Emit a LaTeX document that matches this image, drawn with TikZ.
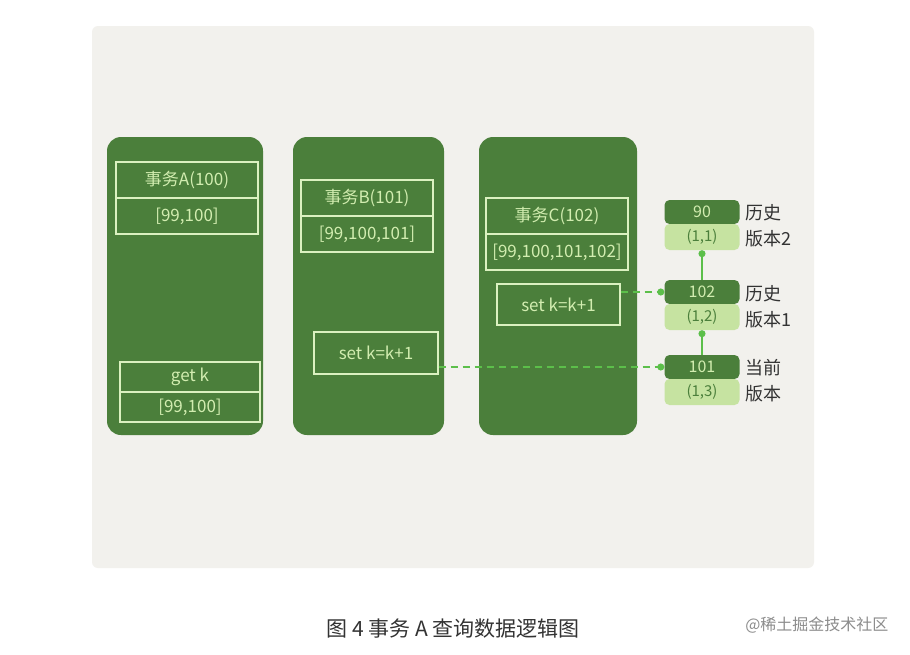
\documentclass[tikz,border=0pt]{standalone}
\usepackage{fontspec}
\setmainfont{Noto Sans CJK SC}
\usetikzlibrary{arrows.meta}
\definecolor{dg}{HTML}{4B7F3B}
\definecolor{lg}{HTML}{C6E3A1}
\definecolor{tx}{HTML}{D2EDB0}
\definecolor{bg}{HTML}{F2F1ED}
\definecolor{ar}{HTML}{5CBF4A}
\tikzset{
 col/.style={fill=dg,rounded corners=14pt},
 ib/.style={draw=tx!80!white,line width=1.2pt,text=tx,font=\fontsize{17}{20}\selectfont,inner sep=0pt},
 vd/.style={fill=dg,rounded corners=5pt,text=tx,font=\fontsize{16}{18}\selectfont},
 vl/.style={fill=lg,rounded corners=5pt,text=dg,font=\fontsize{15}{18}\selectfont},
 lab/.style={font=\fontsize{18}{26}\selectfont,text=black!80,align=left,anchor=west},
 dsh/.style={draw=ar,dash pattern=on 7pt off 5pt,line width=1.3pt,-{Circle[length=7pt]}},
 sol/.style={draw=ar,line width=1.3pt,-{Circle[length=7pt]}}
}
\begin{document}
\begin{tikzpicture}[x=1pt,y=-1pt]
\useasboundingbox (0,0) rectangle (910,654);
\fill[white] (0,0) rectangle (910,654);
\fill[bg,rounded corners=6pt] (92,26) rectangle (814,568);
% columns
\fill[col] (107,137) rectangle (263,435);
\fill[col] (293,137) rectangle (444,435);
\fill[col] (479,137) rectangle (637,435);
% A
\node[ib,minimum width=142pt,minimum height=36pt] (ah) at (187,180) {事务A(100)};
\node[ib,minimum width=142pt,minimum height=36pt] (ar) at (187,216) {[99,100]};
\node[ib,minimum width=140pt,minimum height=30pt] (ag) at (190,377) {get k};
\node[ib,minimum width=140pt,minimum height=30pt] (av) at (190,407) {[99,100]};
% B
\node[ib,minimum width=132pt,minimum height=36pt] (bh) at (367,198) {事务B(101)};
\node[ib,minimum width=132pt,minimum height=36pt] (br) at (367,234) {[99,100,101]};
\node[ib,minimum width=124pt,minimum height=42pt] (bs) at (376,353) {set k=k+1};
% C
\node[ib,minimum width=142pt,minimum height=36pt] (ch) at (557,216) {事务C(102)};
\node[ib,minimum width=142pt,minimum height=36pt] (cr) at (557,252) {[99,100,101,102]};
\node[ib,minimum width=123pt,minimum height=41pt] (cs) at (558.5,304.5) {set k=k+1};
% versions
\node[vd,minimum width=75pt,minimum height=24pt] (v90) at (702,212) {90};
\node[vl,minimum width=75pt,minimum height=26pt] (v11) at (702,237) {(1,1)};
\node[vd,minimum width=75pt,minimum height=24pt] (v102) at (702,292) {102};
\node[vl,minimum width=75pt,minimum height=26pt] (v12) at (702,317) {(1,2)};
\node[vd,minimum width=75pt,minimum height=24pt] (v101) at (702,367) {101};
\node[vl,minimum width=75pt,minimum height=26pt] (v13) at (702,392) {(1,3)};
\node[lab] (l1) at (742,226) {历史\\版本2};
\node[lab] (l2) at (742,307) {历史\\版本1};
\node[lab] (l3) at (742,381) {当前\\版本};
% arrows
\draw[dsh] (cs.east |- v102.west) -- (v102.west);
\draw[dsh] (bs.east |- v101.west) -- (v101.west);
\draw[sol] (v101.north) -- (v12.south);
\draw[sol] (v102.north) -- (v11.south);
% caption
\node[font=\fontsize{21}{24}\selectfont,text=black!80] (cap) at (453,629) {图 4 事务 A 查询数据逻辑图};
\node[font=\fontsize{16}{18}\selectfont,text=black!45,anchor=east] (wm) at (892,625) {@稀土掘金技术社区};
\end{tikzpicture}
\end{document}
